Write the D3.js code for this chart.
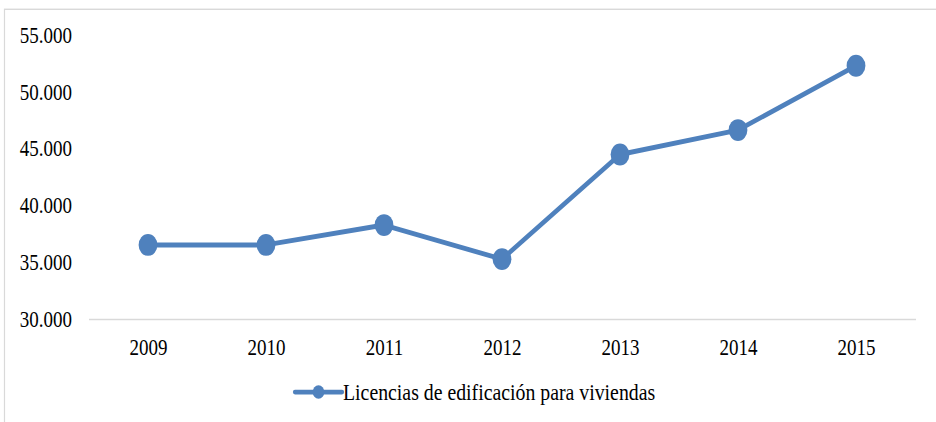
<!DOCTYPE html>
<html lang="es">
<head>
<meta charset="utf-8">
<title>Licencias de edificación para viviendas</title>
<script src="https://d3js.org/d3.v7.min.js"></script>
<style>
  html, body { margin: 0; padding: 0; background: #fff; }
  svg { display: block; }
  text { font-family: "Liberation Serif", "Times New Roman", serif; font-size: 19px; fill: #000; }
  text.legend { font-size: 19.8px; }
</style>
</head>
<body>
<script>
// data
var years = ["2009", "2010", "2011", "2012", "2013", "2014", "2015"];
var licencias = [36550, 36550, 38300, 35300, 44500, 46650, 52300];
var yTicks = [30000, 35000, 40000, 45000, 50000, 55000];
var seriesName = "Licencias de edificación para viviendas";

// the original picture is stretched vertically, so draw in a squashed box
var W = 936, H = 422, sy = 1.16, h = H / sy;
var blue = "#4F81BD", grey = "#d9d9d9";

var svg = d3.select("body").append("svg")
  .attr("width", W)
  .attr("height", H)
  .attr("viewBox", "0 0 " + W + " " + h)
  .attr("preserveAspectRatio", "none");

// chart frame (cut off on the right and bottom)
svg.append("rect")
  .attr("x", 4.5).attr("y", 8)
  .attr("width", 1000).attr("height", 1000)
  .attr("fill", "none").attr("stroke", grey).attr("stroke-width", 1.2);

var x = d3.scalePoint().domain(years).range([89, 915]).padding(0.5);
var y = d3.scaleLinear().domain([30000, 55000]).range([275.4, 30.2]);

var fmt = d3.formatLocale({ decimal: ",", thousands: ".", grouping: [3], currency: ["", ""] }).format(",.0f");

// y axis labels only
var gy = svg.append("g").attr("transform", "translate(89,0)")
  .call(d3.axisLeft(y).tickValues(yTicks).tickFormat(fmt).tickSize(0).tickPadding(17));
gy.select(".domain").remove();

// x axis
var gx = svg.append("g").attr("transform", "translate(0," + y(30000) + ")")
  .call(d3.axisBottom(x).tickSize(0).tickPadding(17));
gx.select(".domain").attr("stroke", grey).attr("stroke-width", 1.3).attr("d", "M89,0H916");
svg.selectAll("g").attr("font-family", null).attr("font-size", null);

// line + markers
var pts = years.map(function (d, i) { return { year: d, v: licencias[i] }; });
svg.append("path")
  .datum(pts)
  .attr("fill", "none")
  .attr("stroke", blue)
  .attr("stroke-width", 4.2)
  .attr("stroke-linejoin", "round")
  .attr("d", d3.line().x(function (d) { return x(d.year); }).y(function (d) { return y(d.v); }));

svg.selectAll("circle.pt")
  .data(pts)
  .enter().append("circle")
  .attr("class", "pt")
  .attr("cx", function (d) { return x(d.year); })
  .attr("cy", function (d) { return y(d.v); })
  .attr("r", 9.4)
  .attr("fill", blue);

// legend
var ly = 338;
svg.append("line")
  .attr("x1", 295).attr("x2", 342).attr("y1", ly).attr("y2", ly)
  .attr("stroke", blue).attr("stroke-width", 4.2).attr("stroke-linecap", "round");
svg.append("circle").attr("cx", 318.5).attr("cy", ly).attr("r", 5.8).attr("fill", blue);
svg.append("text").attr("class", "legend").attr("x", 343).attr("y", ly + 6.5).text(seriesName);
</script>
</body>
</html>
